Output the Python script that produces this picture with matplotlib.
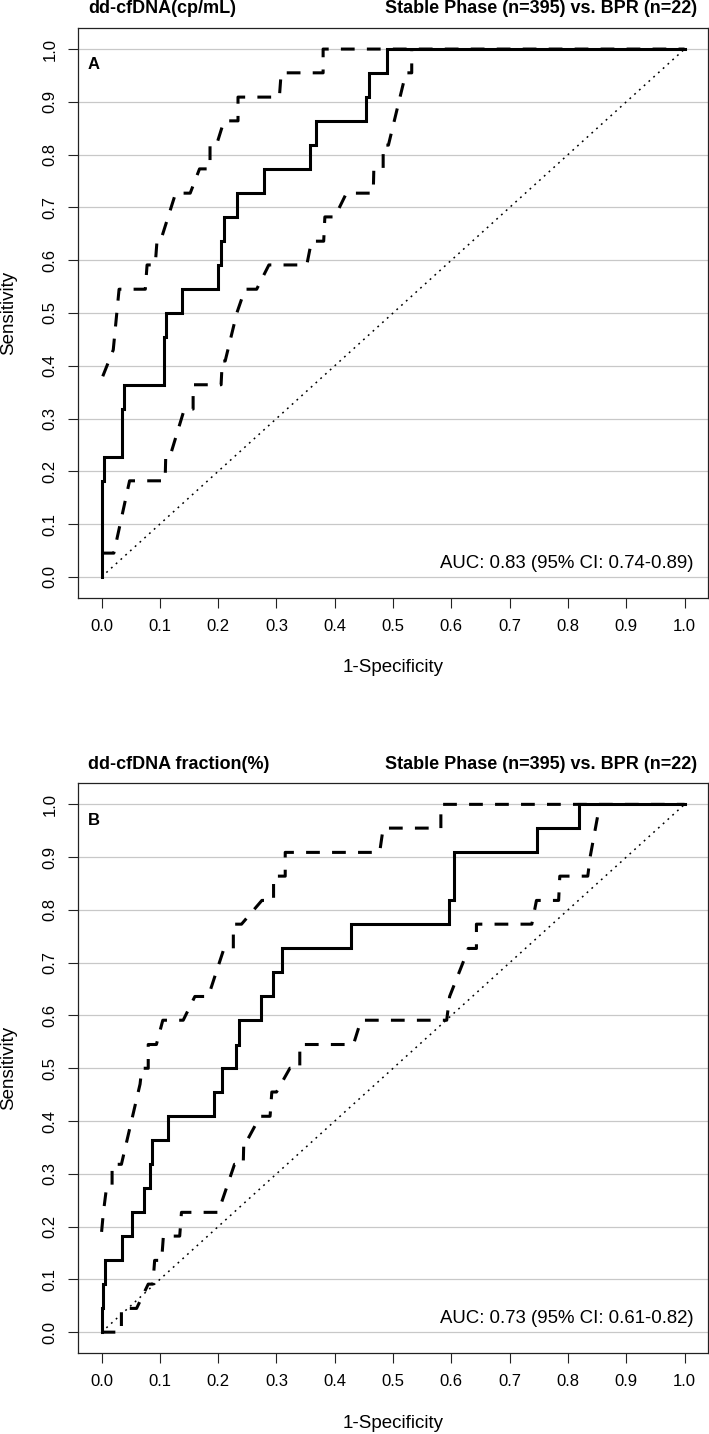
import matplotlib
matplotlib.use("Agg")
import matplotlib.pyplot as plt

plt.rcParams["font.family"] = ["Liberation Sans", "DejaVu Sans"]

# ---- panel A: dd-cfDNA (cp/mL) ----
a_fpr = [0, 0, 0.004, 0.004, 0.035, 0.035, 0.038, 0.038, 0.107, 0.107, 0.111, 0.111,
         0.138, 0.138, 0.2, 0.2, 0.205, 0.205, 0.21, 0.21, 0.233, 0.233, 0.278, 0.278,
         0.358, 0.358, 0.367, 0.367, 0.453, 0.453, 0.459, 0.459, 0.489, 0.489, 1.0]
a_tpr = [0, 0.182, 0.182, 0.227, 0.227, 0.318, 0.318, 0.364, 0.364, 0.455, 0.455, 0.5,
         0.5, 0.545, 0.545, 0.591, 0.591, 0.636, 0.636, 0.682, 0.682, 0.727, 0.727, 0.773,
         0.773, 0.818, 0.818, 0.864, 0.864, 0.909, 0.909, 0.955, 0.955, 1.0, 1.0]

a_hi_fpr = [0.002, 0.02, 0.03, 0.075, 0.078, 0.092, 0.095, 0.101, 0.127, 0.152, 0.168,
            0.186, 0.186, 0.197, 0.21, 0.234, 0.234, 0.305, 0.308, 0.38, 0.38, 1.0]
a_hi_tpr = [0.38, 0.43, 0.545, 0.545, 0.591, 0.591, 0.636, 0.636, 0.727, 0.727, 0.773,
            0.773, 0.818, 0.818, 0.864, 0.864, 0.909, 0.909, 0.955, 0.955, 1.0, 1.0]

a_lo_fpr = [0.0, 0.021, 0.048, 0.109, 0.11, 0.117, 0.142, 0.157, 0.157, 0.205, 0.207,
            0.212, 0.232, 0.246, 0.266, 0.287, 0.352, 0.36, 0.381, 0.383, 0.4, 0.42,
            0.466, 0.467, 0.483, 0.483, 0.492, 0.522, 0.532, 0.532]
a_lo_tpr = [0.045, 0.045, 0.182, 0.182, 0.227, 0.227, 0.318, 0.318, 0.364, 0.364, 0.409,
            0.409, 0.5, 0.545, 0.545, 0.591, 0.591, 0.636, 0.636, 0.682, 0.682, 0.727,
            0.727, 0.773, 0.773, 0.818, 0.818, 0.955, 0.955, 1.0]

# ---- panel B: dd-cfDNA fraction (%) ----
b_fpr = [0, 0, 0.003, 0.003, 0.006, 0.006, 0.035, 0.035, 0.053, 0.053, 0.073, 0.073,
         0.083, 0.083, 0.086, 0.086, 0.114, 0.114, 0.192, 0.192, 0.206, 0.206, 0.23, 0.23,
         0.235, 0.235, 0.274, 0.274, 0.294, 0.294, 0.31, 0.31, 0.428, 0.428, 0.596, 0.596,
         0.604, 0.604, 0.747, 0.747, 0.819, 0.819, 1.0]
b_tpr = [0, 0.045, 0.045, 0.091, 0.091, 0.136, 0.136, 0.182, 0.182, 0.227, 0.227, 0.273,
         0.273, 0.318, 0.318, 0.364, 0.364, 0.409, 0.409, 0.455, 0.455, 0.5, 0.5, 0.545,
         0.545, 0.591, 0.591, 0.636, 0.636, 0.682, 0.682, 0.727, 0.727, 0.773, 0.773, 0.818,
         0.818, 0.909, 0.909, 0.955, 0.955, 1.0, 1.0]

b_hi_fpr = [0.0, 0.003, 0.008, 0.018, 0.018, 0.034, 0.066, 0.069, 0.08, 0.08, 0.094,
            0.105, 0.14, 0.16, 0.183, 0.21, 0.226, 0.226, 0.24, 0.275, 0.295, 0.295,
            0.315, 0.315, 0.477, 0.483, 0.582, 0.582, 1.0]
b_hi_tpr = [0.19, 0.226, 0.27, 0.273, 0.318, 0.318, 0.47, 0.5, 0.5, 0.545, 0.545,
            0.591, 0.591, 0.636, 0.636, 0.727, 0.727, 0.773, 0.773, 0.818, 0.818, 0.864,
            0.864, 0.909, 0.909, 0.955, 0.955, 1.0, 1.0]

b_lo_fpr = [0.0, 0.034, 0.034, 0.06, 0.08, 0.088, 0.091, 0.103, 0.106, 0.134, 0.137,
            0.2, 0.228, 0.243, 0.244, 0.25, 0.272, 0.289, 0.292, 0.3, 0.323, 0.34, 0.34,
            0.432, 0.445, 0.592, 0.597, 0.627, 0.629, 0.643, 0.643, 0.738, 0.746, 0.784,
            0.786, 0.834, 0.838, 0.853]
b_lo_tpr = [0.0, 0.0, 0.045, 0.045, 0.091, 0.091, 0.136, 0.136, 0.182, 0.182, 0.227,
            0.227, 0.318, 0.318, 0.364, 0.364, 0.409, 0.409, 0.455, 0.455, 0.5, 0.5, 0.545,
            0.545, 0.591, 0.591, 0.636, 0.72, 0.727, 0.727, 0.773, 0.773, 0.818, 0.818,
            0.864, 0.864, 0.9, 0.99]

markers_left = ["dd-cfDNA(cp/mL)", "dd-cfDNA fraction(%)"]
comparison = "Stable Phase (n=395) vs. BPR (n=22)"
panel_letters = ["A", "B"]
auc_values = [0.83, 0.73]
auc_ci_low = [0.74, 0.61]
auc_ci_high = [0.89, 0.82]
ticks = [i / 10 for i in range(11)]
tick_labels = ["%.1f" % t for t in ticks]

panels = [
    (a_fpr, a_tpr, a_hi_fpr, a_hi_tpr, a_lo_fpr, a_lo_tpr),
    (b_fpr, b_tpr, b_hi_fpr, b_hi_tpr, b_lo_fpr, b_lo_tpr),
]

fig = plt.figure(figsize=(7.09, 14.34), dpi=100)
bottoms = [0.583, 0.0563]

dash = (0, (4.5, 4.0))

for i, (fpr, tpr, hx, hy, lx, ly) in enumerate(panels):
    ax = fig.add_axes([0.1104, bottoms[i], 0.888, 0.3975])
    ax.set_xlim(-0.04, 1.04)
    ax.set_ylim(-0.04, 1.04)
    ax.set_axisbelow(True)
    ax.yaxis.grid(True, color="#c8c8c8", linewidth=0.9)

    # chance line, CI bounds, ROC curve
    ax.plot([0, 1], [0, 1], color="black", linewidth=1.1, linestyle=(0, (1.2, 3.0)))
    ax.plot(hx, hy, color="black", linewidth=2.2, linestyle=dash)
    ax.plot(lx, ly, color="black", linewidth=2.2, linestyle=dash)
    ax.plot(fpr, tpr, color="black", linewidth=2.2, solid_joinstyle="miter")

    ax.set_xticks(ticks)
    ax.set_xticklabels(tick_labels)
    ax.set_yticks(ticks)
    ax.set_yticklabels(tick_labels)
    ax.tick_params(direction="out", length=7, width=0.8, labelsize=12, pad=8,
                   colors="#222222", labelcolor="black")
    ax.tick_params(axis="y", labelrotation=90)
    for lab in ax.get_yticklabels():
        lab.set_va("center")
    for sp in ax.spines.values():
        sp.set_linewidth(0.9)
        sp.set_color("#222222")

    ax.set_xlabel("1-Specificity", fontsize=13.5)
    ax.xaxis.set_label_coords(0.5, -0.1228)
    ax.xaxis.label.set_va("center")
    ax.set_ylabel("Sensitivity", fontsize=13.5)
    ax.yaxis.set_label_coords(-0.111, 0.5)
    ax.yaxis.label.set_va("center")

    ax.text(0.0154, 1.0333, markers_left[i], transform=ax.transAxes, ha="left",
            va="center", fontsize=13, fontweight="bold")
    ax.text(0.9827, 1.0333, comparison, transform=ax.transAxes, ha="right",
            va="center", fontsize=13, fontweight="bold")
    ax.text(-0.024, 0.97, panel_letters[i], ha="left", va="center", fontsize=12,
            fontweight="bold")
    ax.text(1.016, 0.025, "AUC: %.2f (95%% CI: %.2f-%.2f)" % (auc_values[i], auc_ci_low[i], auc_ci_high[i]),
            ha="right", va="center", fontsize=13.4)

fig.savefig("out.png", dpi=100)
